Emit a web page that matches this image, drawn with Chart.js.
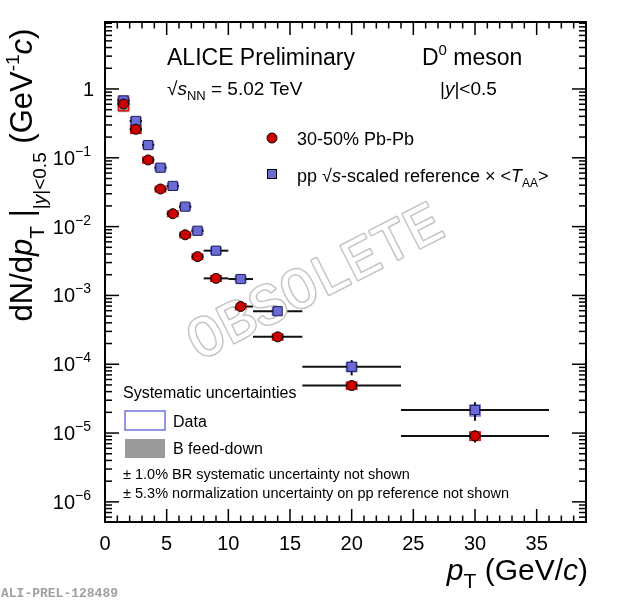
<!DOCTYPE html>
<html>
<head>
<meta charset="utf-8">
<title>D0 meson pT spectrum</title>
<script src="https://cdn.jsdelivr.net/npm/chart.js@4.4.1/dist/chart.umd.min.js"></script>
<style>
    html, body { margin: 0; padding: 0; background: #fff; }
    #wrap { width: 620px; height: 601px; }
</style>
</head>
<body>
<div id="wrap"><canvas id="spectrum" width="620" height="601"></canvas></div>
<script>
// Bins in pT (GeV/c)
const ptBinCenter = [1.5, 2.5, 3.5, 4.5, 5.5, 6.5, 7.5, 9, 11, 14, 20, 30];
const ptBinHalfWidth = [0.5, 0.5, 0.5, 0.5, 0.5, 0.5, 0.5, 1, 1, 2, 4, 6];

// 30-50% Pb-Pb yields and relative uncertainties
const pbpbYield = [0.605, 0.26, 0.093, 0.0352, 0.0154, 0.0076, 0.00366, 0.00177, 0.00069, 0.00025, 4.9e-5, 9.1e-6];
const pbpbStatRel = [0.04, 0.04, 0.03, 0.03, 0.03, 0.04, 0.04, 0.05, 0.06, 0.07, 0.12, 0.2];
const pbpbSystRel = [0.2, 0.13, 0.1, 0.09, 0.09, 0.09, 0.09, 0.09, 0.1, 0.1, 0.12, 0.14];
const pbpbFeedDownLow = [0.24, 0.14, 0.1, 0.08, 0.08, 0.08, 0.08, 0.08, 0.08, 0.08, 0.08, 0.1];
const pbpbFeedDownHigh = [0.08, 0.06, 0.05, 0.05, 0.05, 0.05, 0.05, 0.05, 0.05, 0.05, 0.05, 0.06];

// pp sqrt(s)-scaled reference x <TAA>
const ppRefYield = [0.68, 0.343, 0.153, 0.0718, 0.039, 0.0195, 0.0087, 0.00447, 0.00173, 0.00059, 9.2e-5, 2.16e-5];
const ppRefStatRel = [0.05, 0.04, 0.03, 0.03, 0.03, 0.04, 0.04, 0.05, 0.06, 0.08, 0.25, 0.3];
const ppRefSystRel = [0.16, 0.12, 0.1, 0.1, 0.1, 0.1, 0.1, 0.1, 0.1, 0.12, 0.15, 0.18];

// Axis ticks
const xTickValues = [0, 5, 10, 15, 20, 25, 30, 35];
const yTickExponents = [0, -1, -2, -3, -4, -5, -6];

const SANS = '"Liberation Sans", Arial, sans-serif';
const RED = '#cc0000';
const BLUE = '#6b6bd6';
const SYS_HALF_WIDTH = 0.42; // GeV/c, width of the systematic boxes

function fontOf(size, italic) {
    return (italic ? 'italic ' : '') + size + 'px ' + SANS;
}

// Draw text made of pieces: [text, size, italic, dy]
function drawRich(ctx, x, y, parts, align) {
    ctx.textAlign = 'left';
    ctx.textBaseline = 'alphabetic';
    let total = 0;
    parts.forEach(function(p) {
        ctx.font = fontOf(p[1], p[2]);
        total += ctx.measureText(p[0]).width;
    });
    let cx = x;
    if (align === 'right') cx = x - total;
    if (align === 'center') cx = x - total / 2;
    parts.forEach(function(p) {
        ctx.font = fontOf(p[1], p[2]);
        ctx.fillText(p[0], cx, y + (p[3] || 0));
        cx += ctx.measureText(p[0]).width;
    });
}

function line(ctx, x1, y1, x2, y2) {
    ctx.beginPath();
    ctx.moveTo(x1, y1);
    ctx.lineTo(x2, y2);
    ctx.stroke();
}

const rootStylePlugin = {
    id: 'rootStyle',
    beforeDatasetsDraw(chart) {
        const ctx = chart.ctx;
        const xs = chart.scales.x;
        const ys = chart.scales.y;
        ctx.save();

        // feed-down boxes (grey) for Pb-Pb
        ctx.fillStyle = '#9a9a9a';
        ptBinCenter.forEach(function(pt, i) {
            const x1 = xs.getPixelForValue(pt - SYS_HALF_WIDTH);
            const x2 = xs.getPixelForValue(pt + SYS_HALF_WIDTH);
            const yTop = ys.getPixelForValue(pbpbYield[i] * (1 + pbpbFeedDownHigh[i]));
            const yBot = ys.getPixelForValue(pbpbYield[i] * (1 - pbpbFeedDownLow[i]));
            ctx.fillRect(x1, yTop, x2 - x1, yBot - yTop);
        });

        // data systematic boxes
        ctx.lineWidth = 1.5;
        ctx.strokeStyle = '#7676e0';
        ptBinCenter.forEach(function(pt, i) {
            const x1 = xs.getPixelForValue(pt - SYS_HALF_WIDTH);
            const x2 = xs.getPixelForValue(pt + SYS_HALF_WIDTH);
            const yTop = ys.getPixelForValue(ppRefYield[i] * (1 + ppRefSystRel[i]));
            const yBot = ys.getPixelForValue(ppRefYield[i] * (1 - ppRefSystRel[i]));
            ctx.strokeRect(x1, yTop, x2 - x1, yBot - yTop);
        });
        ctx.strokeStyle = '#e01010';
        ptBinCenter.forEach(function(pt, i) {
            const x1 = xs.getPixelForValue(pt - SYS_HALF_WIDTH);
            const x2 = xs.getPixelForValue(pt + SYS_HALF_WIDTH);
            const yTop = ys.getPixelForValue(pbpbYield[i] * (1 + pbpbSystRel[i]));
            const yBot = ys.getPixelForValue(pbpbYield[i] * (1 - pbpbSystRel[i]));
            ctx.strokeRect(x1, yTop, x2 - x1, yBot - yTop);
        });

        // statistical error bars + bin widths
        ctx.strokeStyle = '#111';
        ctx.lineWidth = 2;
        function bars(values, statRel) {
            ptBinCenter.forEach(function(pt, i) {
                const y = ys.getPixelForValue(values[i]);
                line(ctx, xs.getPixelForValue(pt - ptBinHalfWidth[i]), y, xs.getPixelForValue(pt + ptBinHalfWidth[i]), y);
                const x = xs.getPixelForValue(pt);
                line(ctx, x, ys.getPixelForValue(values[i] * (1 + statRel[i])), x, ys.getPixelForValue(values[i] * (1 - statRel[i])));
            });
        }
        bars(ppRefYield, ppRefStatRel);
        bars(pbpbYield, pbpbStatRel);

        // OBSOLETE watermark, over the bars but under the markers
        ctx.translate(316, 284);
        ctx.rotate(-27 * Math.PI / 180);
        ctx.font = '58px "Liberation Mono", "Courier New", monospace';
        ctx.textAlign = 'center';
        ctx.textBaseline = 'middle';
        ctx.lineJoin = 'round';
        ctx.strokeStyle = '#c4c4c4';
        ctx.lineWidth = 3;
        ctx.strokeText('OBSOLETE', 0, 0);
        ctx.fillStyle = '#fff';
        ctx.fillText('OBSOLETE', 0, 0);
        ctx.restore();
    },
    afterDatasetsDraw(chart) {
        const ctx = chart.ctx;
        const area = chart.chartArea;
        const xs = chart.scales.x;
        const ys = chart.scales.y;
        ctx.save();

        // frame
        ctx.strokeStyle = '#000';
        ctx.lineWidth = 2;
        ctx.strokeRect(area.left, area.top, area.right - area.left, area.bottom - area.top);

        // x ticks, bottom and top, pointing inside
        ctx.lineWidth = 1.5;
        for (let v = Math.ceil(xs.min); v <= xs.max; v++) {
            const x = xs.getPixelForValue(v);
            const len = (v % 5 === 0) ? 13 : 6.5;
            line(ctx, x, area.bottom, x, area.bottom - len);
            line(ctx, x, area.top, x, area.top + len);
        }
        // y ticks, left and right
        for (let e = -7; e <= 1; e++) {
            for (let m = 1; m <= 9; m++) {
                const v = m * Math.pow(10, e);
                if (v < ys.min || v > ys.max) continue;
                const y = ys.getPixelForValue(v);
                const len = (m === 1) ? 14 : 7;
                line(ctx, area.left, y, area.left + len, y);
                line(ctx, area.right, y, area.right - len, y);
            }
        }

        // tick labels
        ctx.fillStyle = '#000';
        ctx.font = fontOf(20, false);
        ctx.textAlign = 'center';
        ctx.textBaseline = 'middle';
        xTickValues.forEach(function(v) {
            ctx.fillText(String(v), xs.getPixelForValue(v), 544);
        });
        yTickExponents.forEach(function(e) {
            const y = ys.getPixelForValue(Math.pow(10, e)) + 7;
            if (e === 0) {
                drawRich(ctx, 94, y, [['1', 20]], 'right');
            } else {
                drawRich(ctx, 91, y, [['10', 20], ['\u2212' + (-e), 14, false, -9]], 'right');
            }
        });

        // axis titles
        drawRich(ctx, 588, 580, [['p', 30, true], ['T', 21, false, 8], [' (GeV/', 30], ['c', 30, true], [')', 30]], 'right');
        ctx.save();
        ctx.translate(32, 175);
        ctx.rotate(-Math.PI / 2);
        drawRich(ctx, 0, 0, [
            ['dN/d', 31], ['p', 31, true], ['T', 21, false, 12], [' |', 31],
            ['|', 19, false, 14], ['y', 19, true, 14], ['|<0.5', 19, false, 14],
            [' (GeV', 31], ['-1', 19, false, -13], ['c', 31, true], [')', 31]
        ], 'center');
        ctx.restore();

        // header texts
        drawRich(ctx, 167, 65, [['ALICE Preliminary', 23]], 'left');
        drawRich(ctx, 422, 65, [['D', 23], ['0', 15, false, -10], [' meson', 23]], 'left');
        drawRich(ctx, 167, 95, [['\u221A', 19], ['s', 19, true], ['NN', 13, false, 5], [' = 5.02 TeV', 19]], 'left');
        drawRich(ctx, 440, 95, [['|', 19], ['y', 19, true], ['|<0.5', 19]], 'left');

        // legend
        ctx.fillStyle = RED;
        ctx.strokeStyle = '#000';
        ctx.lineWidth = 1;
        ctx.beginPath();
        ctx.arc(272, 138, 5, 0, 2 * Math.PI);
        ctx.fill();
        ctx.stroke();
        ctx.fillStyle = BLUE;
        ctx.fillRect(267.5, 169.5, 9, 9);
        ctx.strokeRect(267.5, 169.5, 9, 9);
        ctx.fillStyle = '#000';
        drawRich(ctx, 297, 144.5, [['30-50% Pb-Pb', 18]], 'left');
        drawRich(ctx, 297, 181.5, [['pp \u221A', 18], ['s', 18, true], ['-scaled reference \u00D7 <', 18], ['T', 18, true], ['AA', 12, false, 5], ['>', 18]], 'left');

        // systematic uncertainties box
        drawRich(ctx, 123, 398, [['Systematic uncertainties', 16]], 'left');
        ctx.strokeStyle = '#7272dc';
        ctx.lineWidth = 1.5;
        ctx.strokeRect(125, 411, 40, 19);
        ctx.fillStyle = '#9a9a9a';
        ctx.fillRect(125, 439, 40, 19);
        ctx.fillStyle = '#000';
        drawRich(ctx, 173, 426.5, [['Data', 16]], 'left');
        drawRich(ctx, 173, 454, [['B feed-down', 16]], 'left');
        drawRich(ctx, 123, 479, [['\u00B1 1.0% BR systematic uncertainty not shown', 14.5]], 'left');
        drawRich(ctx, 123, 497.5, [['\u00B1 5.3% normalization uncertainty on pp reference not shown', 14.5]], 'left');

        // preliminary figure id
        ctx.fillStyle = '#a0a0a0';
        ctx.font = 'bold 13px "Liberation Mono", "Courier New", monospace';
        ctx.textAlign = 'left';
        ctx.textBaseline = 'alphabetic';
        ctx.fillText('ALI-PREL-128489', 1, 597);

        ctx.restore();
    }
};

const chart = new Chart(document.getElementById('spectrum'), {
    type: 'scatter',
    data: {
        datasets: [
            {
                label: '30-50% Pb-Pb',
                data: ptBinCenter.map(function(pt, i) { return { x: pt, y: pbpbYield[i] }; }),
                pointStyle: 'circle',
                pointRadius: 5,
                backgroundColor: RED,
                borderColor: '#000',
                borderWidth: 1
            },
            {
                label: 'pp reference',
                data: ptBinCenter.map(function(pt, i) { return { x: pt, y: ppRefYield[i] }; }),
                pointStyle: 'rect',
                pointRadius: 6.5,
                backgroundColor: BLUE,
                borderColor: '#1e1e55',
                borderWidth: 1
            }
        ]
    },
    options: {
        responsive: false,
        animation: false,
        layout: { padding: { top: 22, right: 34, left: 0, bottom: 0 } },
        plugins: {
            legend: { display: false },
            tooltip: { enabled: false }
        },
        scales: {
            x: {
                type: 'linear',
                min: 0,
                max: 39,
                ticks: { display: false },
                grid: { display: false },
                border: { display: false },
                afterFit: function(scale) { scale.height = 79; }
            },
            y: {
                type: 'logarithmic',
                min: 5.1e-7,
                max: 9.4,
                bounds: 'data',
                ticks: { display: false },
                grid: { display: false },
                border: { display: false },
                afterFit: function(scale) { scale.width = 105; }
            }
        }
    },
    plugins: [rootStylePlugin]
});
</script>
</body>
</html>
